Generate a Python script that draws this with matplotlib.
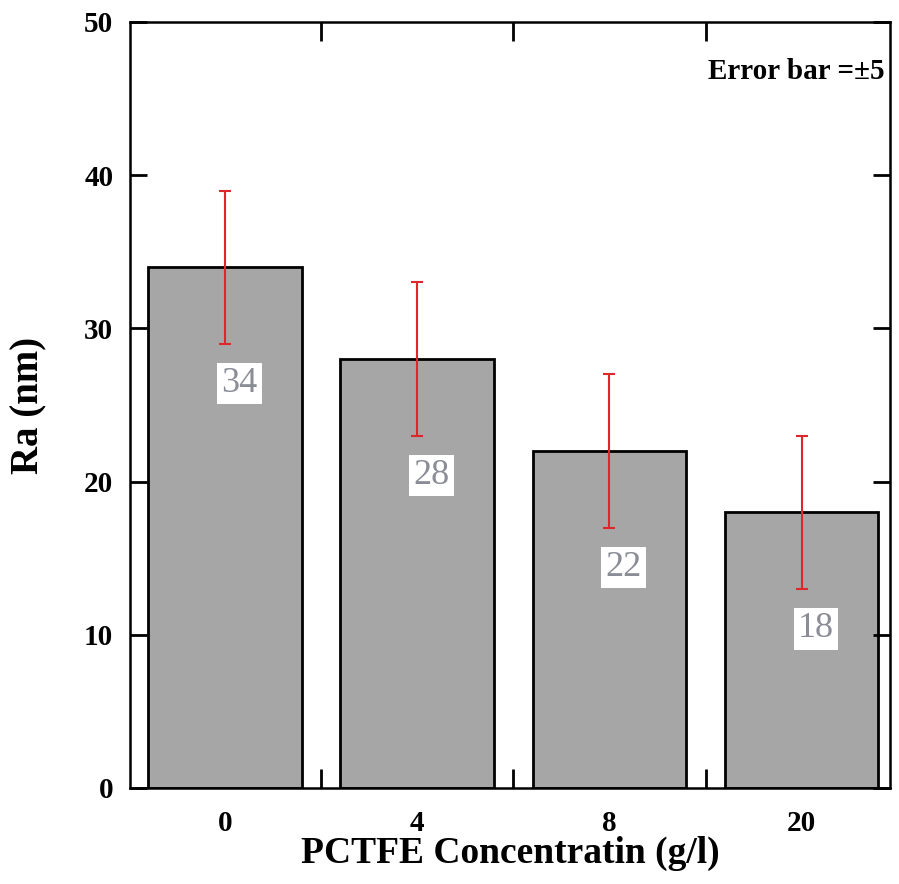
import matplotlib.pyplot as plt
import numpy as np

# data
conc = ['0', '4', '8', '20']
ra = [34, 28, 22, 18]
err = [5, 5, 5, 5]

plt.rcParams['font.family'] = ['Liberation Serif', 'DejaVu Serif']

fig = plt.figure(figsize=(8.99, 8.84), dpi=100)
ax = fig.add_axes([130/899, 96/884, 760/899, 766/884])

x = np.arange(len(conc))
ax.bar(x, ra, width=0.8, color='#a6a6a6', edgecolor='black', linewidth=2)
ax.errorbar(x, ra, yerr=err, fmt='none', ecolor='#e0262b', elinewidth=1.5,
            capsize=4, capthick=1.5)

# value labels with white box
for xi, v in zip(x, ra):
    ax.text(xi + 0.075, v - 7.6, str(v), ha='center', va='center', fontsize=26,
            color='#8a8d96', bbox=dict(facecolor='white', edgecolor='none', pad=3))

ax.set_xlim(-0.495, 3.46)
ax.set_ylim(0, 50)
ax.set_yticks(np.arange(0, 51, 10))
ax.set_xticks(x)
ax.set_xticklabels(conc)
ax.set_xticks([0.5, 1.5, 2.5], minor=True)

ax.tick_params(axis='y', which='major', direction='in', length=12, width=2,
               left=True, right=True, labelsize=21, pad=12)
ax.tick_params(axis='x', which='major', length=0, labelsize=21, pad=16)
ax.tick_params(axis='x', which='minor', direction='in', length=14, width=2,
               bottom=True, top=True)
for lab in ax.get_xticklabels() + ax.get_yticklabels():
    lab.set_fontweight('bold')

for s in ax.spines.values():
    s.set_linewidth(1.8)

ax.set_ylabel('Ra (nm)', fontsize=28, fontweight='bold')
ax.yaxis.set_label_coords(-0.108, 0.5)
ax.set_xlabel('PCTFE Concentratin (g/l)', fontsize=27, fontweight='bold')
ax.xaxis.set_label_coords(0.5, -0.062)

ax.text(0.993, 0.935, 'Error bar =±5', transform=ax.transAxes, ha='right',
        va='center', fontsize=21, fontweight='bold')

fig.savefig('out.png', dpi=100)
